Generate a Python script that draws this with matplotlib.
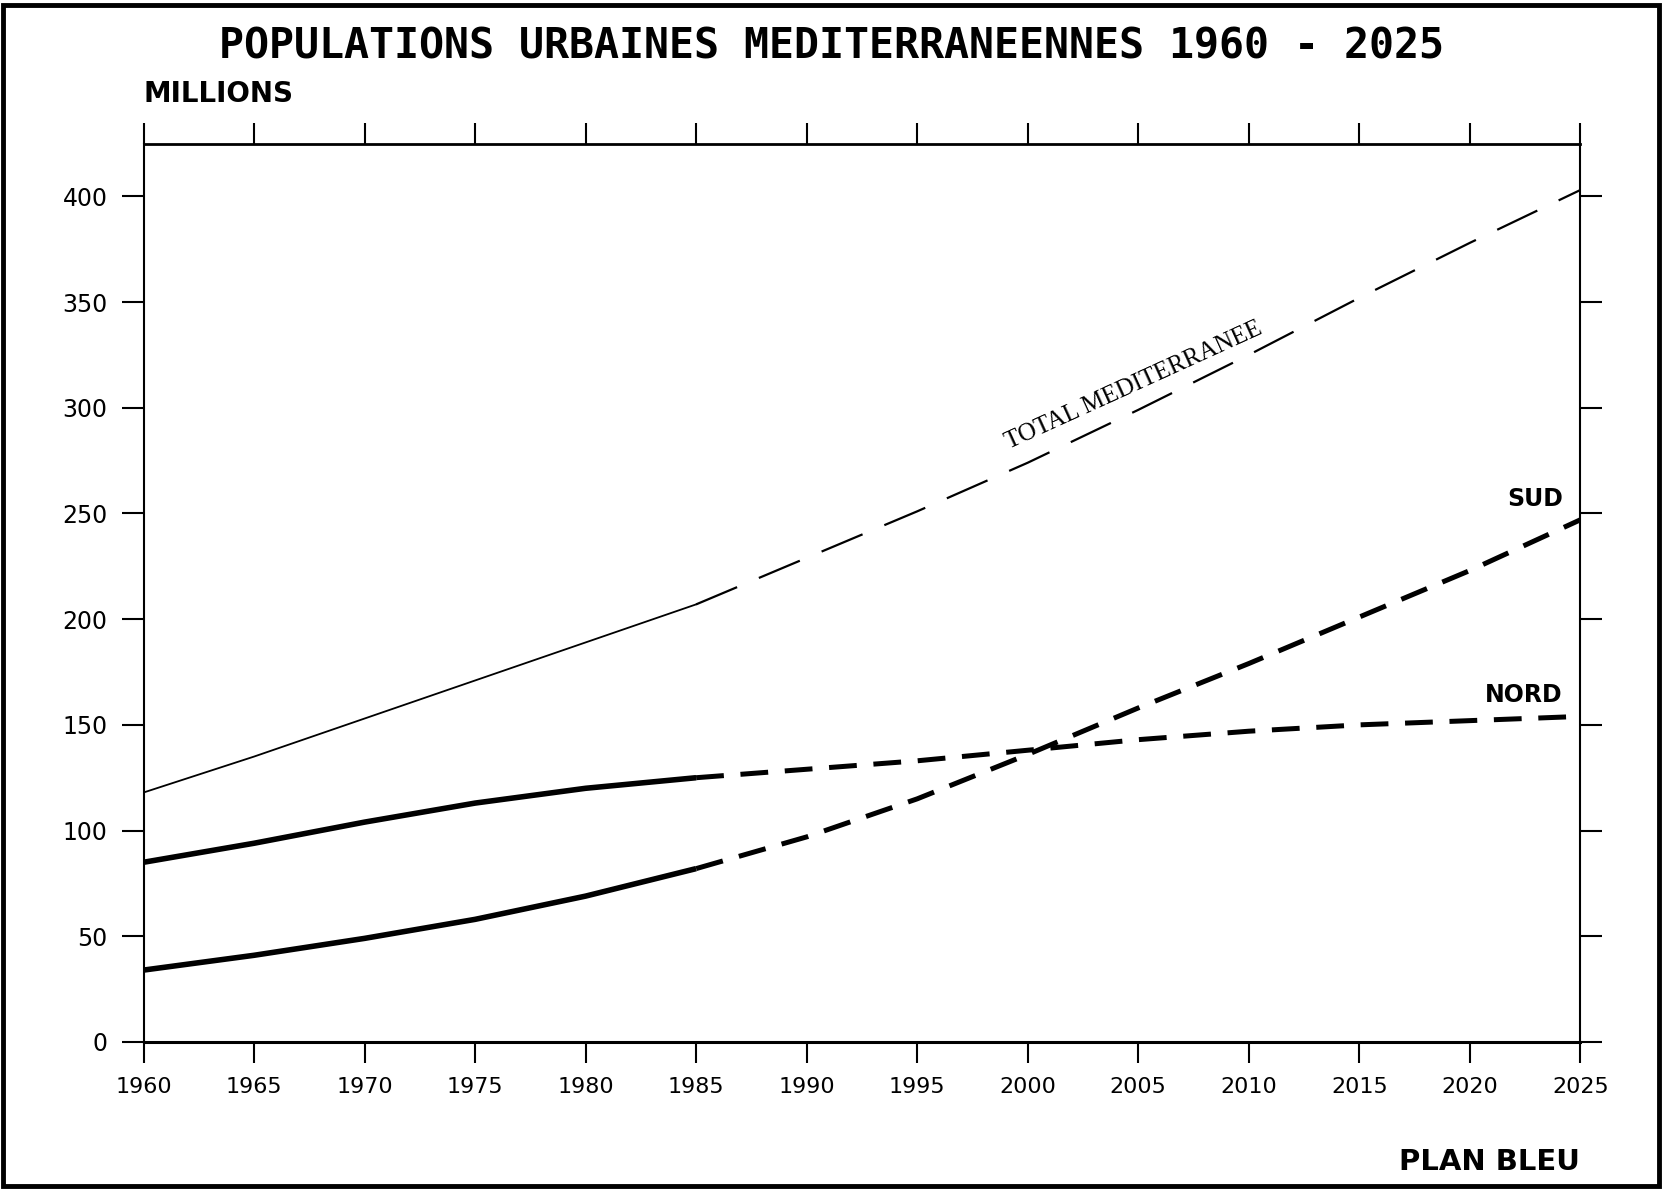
import matplotlib.pyplot as plt
from matplotlib.patches import Rectangle

plt.rcParams['lines.scale_dashes'] = False

# données (millions d'habitants urbains)
annees = [1960, 1965, 1970, 1975, 1980, 1985, 1990, 1995, 2000, 2005, 2010, 2015, 2020, 2025]
total = [118, 135, 153, 171, 189, 207, 229, 251, 274, 299, 325, 352, 378, 403]
nord = [85, 94, 104, 113, 120, 125, 129, 133, 138, 143, 147, 150, 152, 154]
sud = [34, 41, 49, 58, 69, 82, 97, 115, 136, 158, 179, 201, 223, 247]
annee_proj = 1985  # début des projections

xticks = list(range(1960, 2030, 5))
yticks = list(range(0, 450, 50))

fig = plt.figure(figsize=(16.67, 11.93), dpi=100)
ax = fig.add_axes([0.0861, 0.1266, 0.8619, 0.7531])

i = annees.index(annee_proj)

# total : fin puis tirets longs
ax.plot(annees[:i + 1], total[:i + 1], color='black', lw=1.3)
ax.plot(annees[i:], total[i:], color='black', lw=1.6, dashes=(32, 17))

# nord et sud : épais puis tirets courts
for serie in (nord, sud):
    ax.plot(annees[:i + 1], serie[:i + 1], color='black', lw=4.0, solid_capstyle='butt')
    ax.plot(annees[i:], serie[i:], color='black', lw=3.6, dashes=(20, 12))

ax.set_xlim(1960, 2025)
ax.set_ylim(0, 425)
ax.set_xticks(xticks)
ax.set_yticks(yticks)
ax.tick_params(axis='x', direction='out', length=15, width=1.5, top=True,
               labelsize=16, pad=10)
ax.tick_params(axis='y', direction='out', length=16, width=1.5, right=True,
               labelsize=17, pad=10)
for s in ax.spines.values():
    s.set_linewidth(1.5)
ax.spines['bottom'].set_linewidth(2.2)
ax.spines['top'].set_linewidth(2.0)

# étiquettes
ax.text(2024.2, 257, 'SUD', ha='right', va='center', fontsize=17, fontweight='bold')
ax.text(2024.2, 164, 'NORD', ha='right', va='center', fontsize=17, fontweight='bold')
ax.text(2004.8, 310.5, 'TOTAL MEDITERRANEE', ha='center', va='center', fontsize=18,
        family='Liberation Serif', rotation=24.5, rotation_mode='anchor')

fig.text(0.499, 0.961, 'POPULATIONS URBAINES MEDITERRANEENNES 1960 - 2025',
         ha='center', va='center', fontsize=30, fontweight='bold',
         family='DejaVu Sans Mono')
fig.text(0.086, 0.921, 'MILLIONS', ha='left', va='center', fontsize=20,
         fontweight='bold')
fig.text(0.948, 0.026, 'PLAN BLEU', ha='right', va='center', fontsize=21,
         fontweight='bold')

# cadre
fig.patches.append(Rectangle((0.002, 0.006), 0.993, 0.990, transform=fig.transFigure,
                             fill=False, lw=3.5, edgecolor='black'))

fig.savefig('out.png', dpi=100)
